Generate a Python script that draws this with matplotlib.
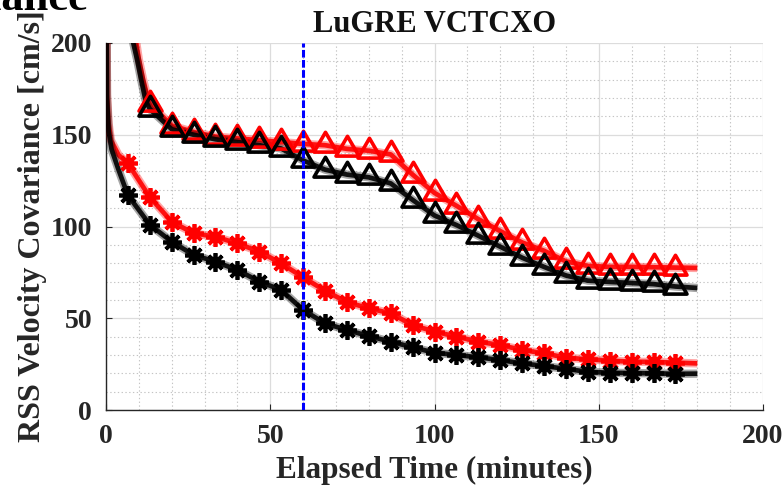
import numpy as np
import matplotlib
matplotlib.use("Agg")
import matplotlib.pyplot as plt
from matplotlib.path import Path
from matplotlib.ticker import MultipleLocator

plt.rcParams['font.family'] = ['Liberation Serif', 'DejaVu Serif']
plt.rcParams['font.weight'] = 'bold'

# Marker epochs (minutes)
t_star = [6.67, 13.33, 20.0, 26.67, 33.33, 40.0, 46.67, 53.33, 60.0, 66.67,
          73.33, 80.0, 86.67, 93.33, 100.0, 106.67, 113.33, 120.0, 126.67,
          133.33, 140.0, 146.67, 153.33, 160.0, 166.67, 173.33]
t_tri = t_star[1:]

# RSS velocity covariance [cm/s]
black_star = [117, 101, 91.7, 84.5, 80.8, 76.3, 70.0, 65.4, 54.5, 47.2,
              43.6, 40.3, 37.2, 34.2, 31.2, 30.0, 28.7, 27.2, 25.4,
              24.0, 22.4, 20.8, 20.3, 20.1, 20.0, 19.7]
red_star = [134.4, 116, 102.6, 96.3, 94.4, 90.8, 86.3, 79.9, 72.3, 65.0,
            58.8, 55.4, 52.7, 46.3, 42.7, 40.0, 37.2, 35.4, 32.7,
            30.9, 28.5, 27.6, 26.9, 26.3, 26.2, 25.8]
black_tri = [164, 153, 150, 147.5, 146, 144.3, 142.5, 136, 131,
             128.3, 126.8, 123.5, 114.5, 106, 100.8, 95, 89, 83,
             78, 73.3, 70.5, 69.8, 69.2, 68.6, 67.3]
red_tri = [167, 155, 151.5, 149, 148, 147, 146, 145, 144.3,
           142.3, 141.3, 139.3, 128.3, 118.3, 111.3, 104, 97.5, 91.3,
           86.8, 81, 78.5, 78, 78, 77.8, 77.6]

# Filter start-up transient and end of run
black_star_head_t = [0.05, 0.3, 0.8, 1.7, 3.8]
black_star_head_v = [260, 170, 152, 142, 131]
red_star_head_t = [0.05, 0.3, 0.8, 1.5, 3.8]
red_star_head_v = [260, 172, 156, 147, 139]
black_tri_head_t = [7.0, 8.3, 9.5, 10.7, 12.0]
black_tri_head_v = [230, 200, 190.7, 180, 169]
red_tri_head_t = [7.6, 8.8, 10.0, 11.3, 12.3]
red_tri_head_v = [230, 205, 191, 180, 173]
t_end = 180.0
black_star_end, red_star_end = 19.8, 25.4
black_tri_end, red_tri_end = 66.5, 77.4

handover_time = 60.0

x_ticks = [0, 50, 100, 150, 200]
y_ticks = [0, 50, 100, 150, 200]

# Triangle marker centred on its centroid
w, h = 18.0, 15.5
tri_marker = Path([(0, 2 * h / 3), (-w / 2, -h / 3), (w / 2, -h / 3), (0, 2 * h / 3)],
                  [Path.MOVETO, Path.LINETO, Path.LINETO, Path.CLOSEPOLY])
star_marker = (8, 2, 0)

fig = plt.figure(figsize=(7.83, 4.87), dpi=100)
ax = fig.add_axes([106 / 783, 77 / 487, 657 / 783, 367 / 487])


def series(head_t, head_v, mt, mv, end_v, color, marker, ms, mew):
    tt = list(head_t) + list(mt) + [t_end]
    vv = list(head_v) + list(mv) + [end_v]
    ax.plot(tt, vv, color=color, lw=6.0, alpha=0.35, solid_capstyle='butt', zorder=3)
    ax.plot(tt, vv, color=color, lw=3.4, alpha=0.9, solid_capstyle='butt', zorder=3)
    ax.plot(mt, mv, linestyle='none', marker=marker, ms=ms, mew=mew,
            mfc='none', mec=color, zorder=4)


series(red_tri_head_t, red_tri_head_v, t_tri, red_tri, red_tri_end, 'red', tri_marker, 19, 2.6)
series(red_star_head_t, red_star_head_v, t_star, red_star, red_star_end, 'red', star_marker, 13.5, 2.7)
series(black_tri_head_t, black_tri_head_v, t_tri, black_tri, black_tri_end, 'black', tri_marker, 19, 2.6)
series(black_star_head_t, black_star_head_v, t_star, black_star, black_star_end, 'black', star_marker, 13.5, 2.7)

ax.axvline(handover_time, color='#0000ff', lw=2.2, linestyle=(0, (2.5, 0.8)), zorder=6)

ax.set_xlim(0, 200)
ax.set_ylim(0, 200)
ax.set_xticks(x_ticks)
ax.set_yticks(y_ticks)
ax.xaxis.set_minor_locator(MultipleLocator(10))
ax.yaxis.set_minor_locator(MultipleLocator(10))
ax.grid(True, which='major', color='#dcdcdc', lw=0.9, linestyle='-', zorder=0)
ax.grid(True, which='minor', color='#c4c4c4', lw=0.8, linestyle=(0, (1.2, 2.2)), zorder=0)
ax.set_axisbelow(True)

for side in ('top', 'right'):
    ax.spines[side].set_visible(False)
for side in ('left', 'bottom'):
    ax.spines[side].set_color('#262626')
    ax.spines[side].set_linewidth(1.0)

ax.tick_params(which='major', direction='in', length=4, width=0.8, color='#262626',
               labelsize=20, labelcolor='#262626', pad=10)
ax.tick_params(which='minor', length=0)
for lab in ax.get_xticklabels() + ax.get_yticklabels():
    lab.set_fontweight('bold')

ax.set_xlabel('Elapsed Time (minutes)', fontsize=22.5, fontweight='bold', color='#262626')
ax.set_ylabel('RSS Velocity Covariance [cm/s]', fontsize=23, fontweight='bold', color='#262626')
ax.xaxis.set_label_coords(0.5, -0.125)
ax.yaxis.set_label_coords(-0.09, 0.5)

ax.text(0.5, 1.031, 'LuGRE VCTCXO', transform=ax.transAxes, ha='center', va='baseline',
        fontsize=22, fontweight='bold', color='#111111')

fig.text(88 / 783, 1 - 10 / 487, 'Variance', ha='right', va='baseline',
         fontsize=32, fontweight='bold', color='black')

fig.savefig('out.png', dpi=100)
